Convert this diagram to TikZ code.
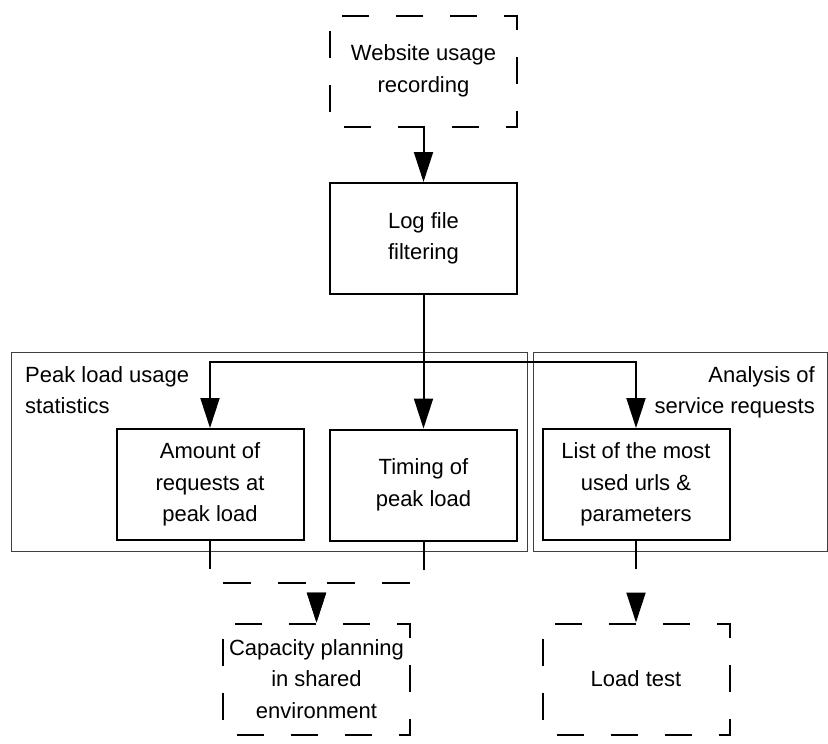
\documentclass[tikz,border=0pt]{standalone}
\usepackage{fontspec}
\setmainfont{Liberation Sans}
\usetikzlibrary{arrows.meta}
\begin{document}
\begin{tikzpicture}[x=1pt,y=-1pt,
  every node/.style={font=\fontsize{22}{31.5}\selectfont},
  solidbox/.style={draw, line width=2pt, minimum width=187pt, minimum height=111pt,
                   align=center, inner sep=0pt},
  dashbox/.style={solidbox, dash pattern=on 27pt off 27pt, dash phase=40pt},
  group/.style={draw=black!75, line width=1pt, inner sep=0pt},
  grouplabel/.style={inner sep=0pt},
  flow/.style={line width=2pt, -{Triangle[length=30pt,width=19pt]}},
  dashflow/.style={flow, dash pattern=on 28pt off 27pt}
]
\useasboundingbox (0,0) rectangle (828,744);

% grouping frames
\node[group, minimum width=516pt, minimum height=199pt] (g1) at (269,451.5) {};
\node[group, minimum width=294pt, minimum height=199pt] (g2) at (680,451.5) {};
\node[grouplabel, anchor=north west, align=left] (g1label) at (25,366) {Peak load usage\\statistics};
\node[grouplabel, anchor=north east, align=right] (g2label) at (815,366) {Analysis of\\service requests};

% process steps
\node[dashbox]  (web)    at (423.5,71)    {Website usage\\recording};
\node[solidbox] (log)    at (423.5,238.5) {Log file\\filtering};
\node[solidbox] (amount) at (210,484.5)   {Amount of\\requests at\\peak load};
\node[solidbox] (timing) at (423.5,485)   {Timing of\\peak load};
\node[solidbox] (list)   at (636,484.5)   {List of the most\\used urls \&\\parameters};
\node[dashbox]  (cap)    at (316.5,679)   {Capacity planning\\in shared\\environment};
\node[dashbox]  (load)   at (636,679)     {Load test};

% connectors
\coordinate (split) at (423.5,362);
\coordinate (capin) at (316.5,583);
\draw[flow] (web.south) -- (log.north);
\draw[flow] (log.south) -- (timing.north);
\draw[flow] (split) -| (amount.north);
\draw[flow] (split) -| (list.north);
\draw[dashflow] (amount.south) |- (capin) -- (cap.north);
\draw[dashflow] (timing.south) |- (capin) -- (cap.north);
\draw[dashflow] (list.south) -- (load.north);
\end{tikzpicture}
\end{document}
